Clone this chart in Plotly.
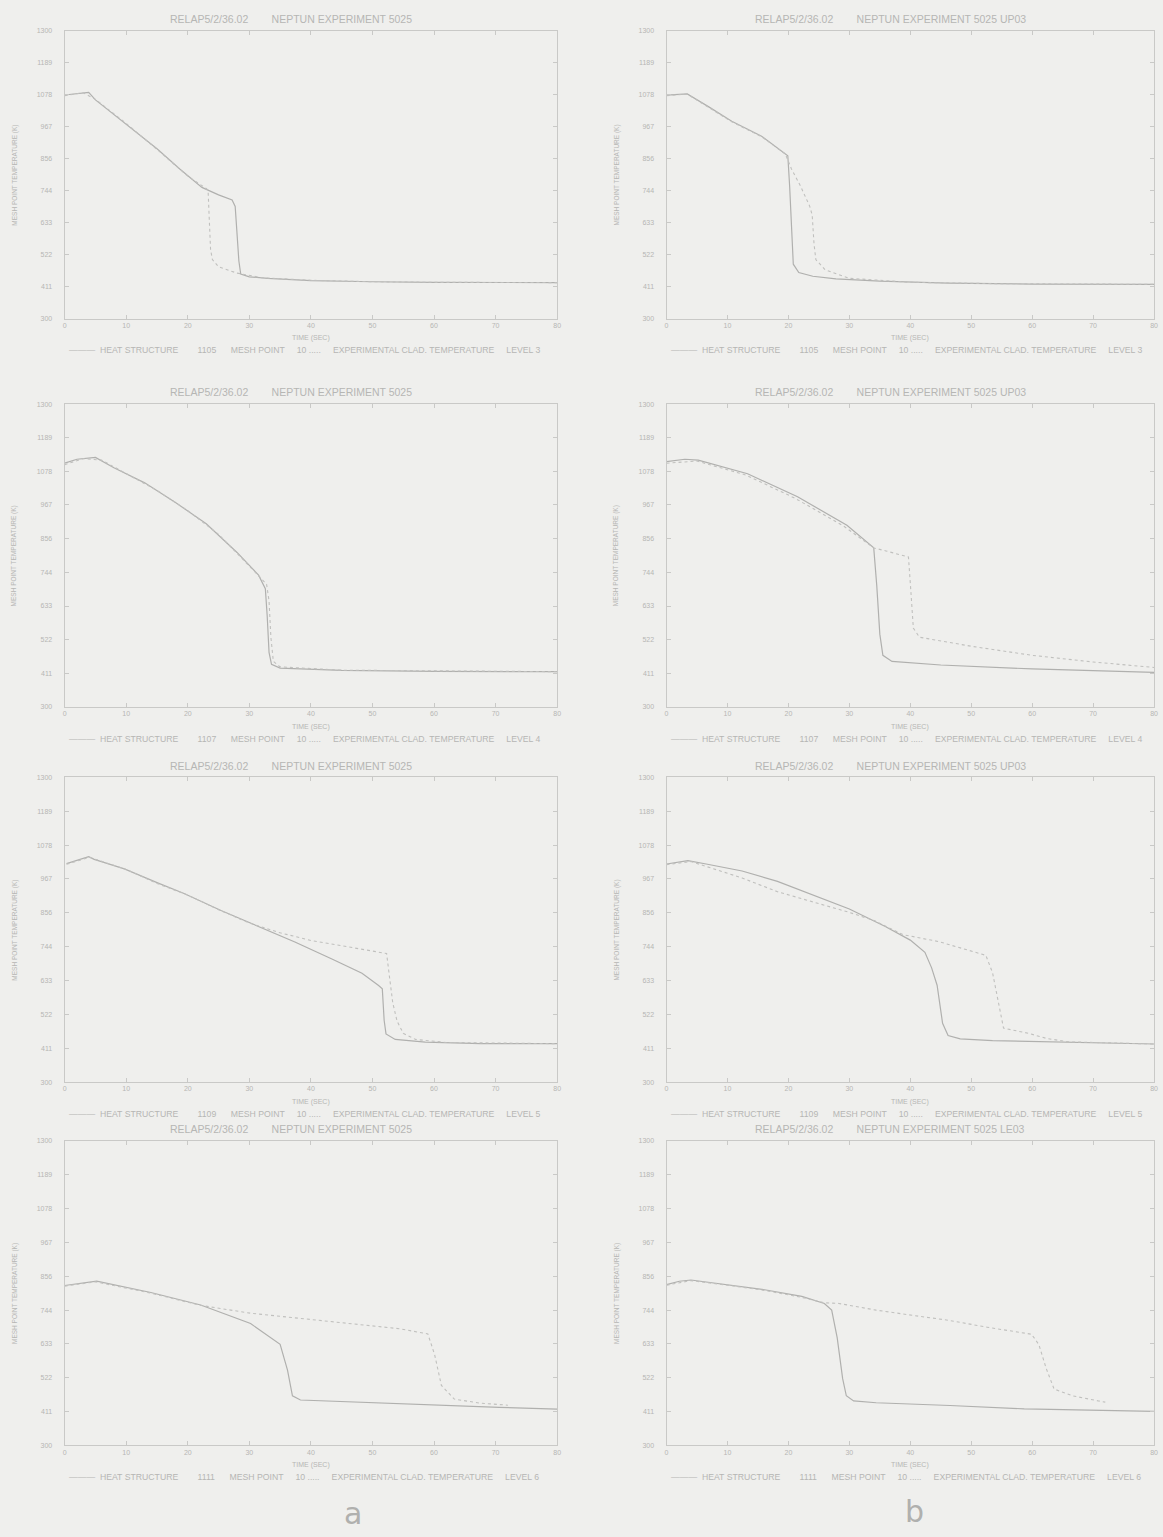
import plotly.graph_objects as go

W, H = 1163, 1537

# ---------------- axis ticks ----------------
x_ticks = [0, 10, 20, 30, 40, 50, 60, 70, 80]
y_ticks = [300, 411, 522, 633, 744, 856, 967, 1078, 1189, 1300]
y_tick_text = ["300", "411", "522", "633", "744", "856", "967", "1078", "1189", "1300"]

# ---------------- panel texts ----------------
titles = [
    "RELAP5/2/36.02        NEPTUN EXPERIMENT 5025",
    "RELAP5/2/36.02        NEPTUN EXPERIMENT 5025 UP03",
    "RELAP5/2/36.02        NEPTUN EXPERIMENT 5025",
    "RELAP5/2/36.02        NEPTUN EXPERIMENT 5025 UP03",
    "RELAP5/2/36.02        NEPTUN EXPERIMENT 5025",
    "RELAP5/2/36.02        NEPTUN EXPERIMENT 5025 UP03",
    "RELAP5/2/36.02        NEPTUN EXPERIMENT 5025",
    "RELAP5/2/36.02        NEPTUN EXPERIMENT 5025 LE03",
]
heat_structures = ["1105", "1105", "1107", "1107", "1109", "1109", "1111", "1111"]
levels = ["3", "3", "4", "4", "5", "5", "6", "6"]
x_title = "TIME (SEC)"
y_title = "MESH POINT TEMPERATURE (K)"
column_labels = ["a", "b"]

# ---------------- data (time s, temperature K) ----------------
# row 1, column a
t_a1_calc = [0, 2.5, 3.9, 5, 10, 15, 18.7, 22.3, 25, 27.2, 27.7, 28.0, 28.3, 28.6, 30, 33, 40, 50, 60, 80]
T_a1_calc = [1077, 1083, 1086, 1060, 975, 890, 820, 756, 730, 712, 690, 600, 500, 455, 445, 440, 432, 428, 426, 425]
t_a1_exp = [0, 3, 5, 10, 15, 20, 23.0, 23.3, 23.5, 23.7, 24, 25, 28, 32, 40, 50, 60, 80]
T_a1_exp = [1075, 1085, 1062, 978, 888, 795, 752, 745, 640, 540, 505, 480, 458, 442, 433, 428, 426, 425]

# row 1, column b
t_b1_calc = [0, 3.4, 7, 10.7, 15.6, 19.9, 20.2, 20.5, 20.8, 21.7, 24, 27.8, 35, 46.2, 60, 80]
T_b1_calc = [1077, 1081, 1035, 986, 934, 866, 760, 600, 489, 460, 447, 438, 430, 423, 420, 419]
t_b1_exp = [0, 3.4, 10.7, 15.6, 19.5, 20.5, 22, 23.5, 23.9, 24.2, 24.5, 26, 30, 40, 55, 80]
T_b1_exp = [1075, 1080, 984, 932, 872, 820, 760, 690, 660, 560, 505, 470, 440, 426, 421, 419]

# row 2, column a
t_a2_calc = [0, 2, 5, 8, 13, 18, 23, 28, 31.5, 32.6, 32.9, 33.2, 33.6, 35, 45, 60, 80]
T_a2_calc = [1105, 1118, 1124, 1090, 1040, 975, 905, 810, 735, 690, 600, 480, 440, 428, 420, 417, 416]
t_a2_exp = [0, 3, 6, 10, 15, 20, 25, 30, 32.8, 33.2, 33.5, 33.9, 35, 45, 60, 80]
T_a2_exp = [1100, 1120, 1115, 1070, 1015, 948, 870, 765, 705, 650, 530, 450, 432, 421, 418, 416]

# row 2, column b
t_b2_calc = [0, 3, 5.2, 13.3, 21.5, 29.6, 34, 34.5, 35, 35.5, 37, 45, 60, 80]
T_b2_calc = [1110, 1118, 1115, 1070, 994, 900, 825, 700, 540, 470, 450, 438, 425, 414]
t_b2_exp = [0, 5, 13, 21, 29, 34, 36, 38, 39.7, 40.1, 40.5, 41.5, 50, 60, 70, 80]
T_b2_exp = [1105, 1112, 1066, 990, 898, 825, 815, 805, 795, 680, 560, 530, 500, 470, 448, 430]

# row 3, column a
t_a3_calc = [0.3, 3.9, 4.8, 9.7, 15.1, 19.3, 25.4, 31.4, 37.4, 43.5, 48.3, 51.0, 51.6, 51.9, 52.2, 53.7, 58.6, 67.6, 80]
T_a3_calc = [1017, 1040, 1031, 1000, 954, 920, 863, 811, 760, 703, 657, 617, 606, 503, 458, 440, 431, 426, 426]
t_a3_exp = [0.3, 4, 10, 15, 20, 25, 30, 35, 40, 45, 50, 52.3, 52.8, 53.3, 54, 55, 57, 62, 80]
T_a3_exp = [1015, 1038, 998, 952, 914, 866, 822, 790, 765, 748, 732, 722, 640, 560, 500, 460, 440, 430, 426]

# row 3, column b
t_b3_calc = [0, 3.5, 6.5, 12.4, 18.2, 24.1, 30, 35.9, 40, 42.4, 43.5, 44.4, 44.7, 45.3, 46.2, 48.2, 53.5, 65.3, 80]
T_b3_calc = [1016, 1027, 1016, 993, 959, 914, 868, 811, 766, 726, 675, 618, 573, 493, 453, 442, 436, 431, 425]
t_b3_exp = [0, 4, 12.4, 18.2, 24.1, 30, 34.1, 38.8, 44.7, 50.6, 52.4, 53.5, 54.7, 55.3, 59.4, 62.4, 66, 80]
T_b3_exp = [1014, 1024, 970, 925, 891, 857, 830, 784, 761, 727, 716, 659, 545, 477, 460, 443, 432, 425]

# row 4, column a
t_a4_calc = [0, 5.2, 14, 22.1, 30.2, 35, 36.2, 37, 38.3, 54.4, 70.6, 80]
T_a4_calc = [825, 839, 802, 761, 700, 632, 547, 463, 449, 436, 425, 419]
t_a4_exp = [0, 5, 14, 22, 30.2, 38.3, 46.4, 54.4, 59, 60.1, 61.2, 63.3, 67.4, 72]
T_a4_exp = [823, 837, 800, 760, 734, 717, 700, 683, 666, 598, 497, 452, 439, 432]

# row 4, column b
t_b4_calc = [0, 2.1, 4, 10, 16.1, 22.2, 25.9, 27.1, 28, 28.9, 29.5, 30.7, 34.4, 46.5, 58.7, 80]
T_b4_calc = [828, 839, 843, 828, 811, 789, 766, 744, 654, 519, 463, 446, 440, 431, 420, 412]
t_b4_exp = [0, 4, 10, 16, 22, 25.9, 28.3, 34.4, 40.4, 46.5, 52.6, 59.9, 61.1, 62.3, 63.6, 66.6, 70.9, 72]
T_b4_exp = [826, 841, 826, 809, 787, 768, 766, 744, 727, 710, 688, 665, 631, 553, 485, 463, 446, 442]

panels_data = [
    (t_a1_calc, T_a1_calc, t_a1_exp, T_a1_exp),
    (t_b1_calc, T_b1_calc, t_b1_exp, T_b1_exp),
    (t_a2_calc, T_a2_calc, t_a2_exp, T_a2_exp),
    (t_b2_calc, T_b2_calc, t_b2_exp, T_b2_exp),
    (t_a3_calc, T_a3_calc, t_a3_exp, T_a3_exp),
    (t_b3_calc, T_b3_calc, t_b3_exp, T_b3_exp),
    (t_a4_calc, T_a4_calc, t_a4_exp, T_a4_exp),
    (t_b4_calc, T_b4_calc, t_b4_exp, T_b4_exp),
]

# ---------------- layout geometry (pixels) ----------------
col_px = [(63, 558), (668, 1158)]
row_px = [(27, 316), (402, 706), (777, 1083), (1142, 1448)]

BG = "#efefed"
AXC = "#c9c9c7"
TXT = "#b6b6b4"
CALC = "#b0b0ae"
EXP = "#c0c0be"
FONT = "Liberation Sans"

fig = go.Figure()
layout = dict(
    width=W, height=H, autosize=False,
    margin=dict(l=0, r=0, t=0, b=0),
    paper_bgcolor=BG, plot_bgcolor=BG,
    showlegend=False,
    font=dict(family=FONT, color=TXT, size=7),
)
annotations = []

def px(x):
    return x / W

def py(y):
    return 1 - y / H

for i, (tc, Tc, te, Te) in enumerate(panels_data):
    r, c = divmod(i, 2)
    x0, x1 = col_px[c]
    y0, y1 = row_px[r]
    n = i + 1
    xa = "x" if n == 1 else f"x{n}"
    ya = "y" if n == 1 else f"y{n}"
    xkey = "xaxis" if n == 1 else f"xaxis{n}"
    ykey = "yaxis" if n == 1 else f"yaxis{n}"

    fig.add_trace(go.Scatter(x=tc, y=Tc, mode="lines", xaxis=xa, yaxis=ya,
                             line=dict(color=CALC, width=1.2), name="HEAT STRUCTURE"))
    fig.add_trace(go.Scatter(x=te, y=Te, mode="lines", xaxis=xa, yaxis=ya,
                             line=dict(color=EXP, width=1.1, dash="dot"),
                             name="EXPERIMENTAL CLAD. TEMPERATURE"))

    layout[xkey] = dict(
        domain=[px(x0), px(x1)], range=[0, 80], anchor=ya,
        tickmode="array", tickvals=x_ticks, ticktext=[str(v) for v in x_ticks],
        showgrid=False, zeroline=False, showline=True, linecolor=AXC, linewidth=1,
        mirror="allticks", ticks="inside", ticklen=4, tickcolor=AXC,
        tickfont=dict(size=7, color=TXT, family=FONT),
    )
    layout[ykey] = dict(
        domain=[py(y1), py(y0)], range=[300, 1300], anchor=xa,
        tickmode="array", tickvals=y_ticks, ticktext=y_tick_text,
        showgrid=False, zeroline=False, showline=True, linecolor=AXC, linewidth=1,
        mirror="allticks", ticks="inside", ticklen=4, tickcolor=AXC,
        tickfont=dict(size=7, color=TXT, family=FONT), ticklabelstandoff=10,
    )

    xc = (x0 + x1) / 2
    # title
    annotations.append(dict(x=px(xc - 20), y=py(y0 - 12), xref="paper", yref="paper",
                            text=titles[i], showarrow=False, xanchor="center", yanchor="middle",
                            font=dict(size=10.5, color=TXT, family=FONT)))
    # x title
    annotations.append(dict(x=px(xc), y=py(y1 + 20), xref="paper", yref="paper",
                            text=x_title, showarrow=False, xanchor="center", yanchor="middle",
                            font=dict(size=7, color=TXT, family=FONT)))
    # legend line
    leg = ("\u2014\u2014\u2014  HEAT STRUCTURE        " + heat_structures[i] +
           "      MESH POINT     10 .....     EXPERIMENTAL CLAD. TEMPERATURE     LEVEL " + levels[i])
    annotations.append(dict(x=px(x0 + 2), y=py(y1 + 32), xref="paper", yref="paper",
                            text=leg, showarrow=False, xanchor="left", yanchor="middle",
                            font=dict(size=8.7, color=TXT, family=FONT)))
    # y title
    annotations.append(dict(x=px(x0 - 50), y=py((y0 + y1) / 2), xref="paper", yref="paper",
                            text=y_title, showarrow=False, textangle=-90,
                            xanchor="center", yanchor="middle",
                            font=dict(size=6.5, color=TXT, family=FONT)))

# column labels
annotations.append(dict(x=px(353), y=py(1516), xref="paper", yref="paper",
                        text=column_labels[0], showarrow=False, xanchor="center", yanchor="middle",
                        font=dict(size=30, color="#b0b0ae", family="DejaVu Sans")))
annotations.append(dict(x=px(917), y=py(1514), xref="paper", yref="paper",
                        text=column_labels[1], showarrow=False, xanchor="center", yanchor="middle",
                        font=dict(size=30, color="#b0b0ae", family="DejaVu Sans")))

layout["annotations"] = annotations
fig.update_layout(**layout)
fig.write_html(
    "out.html",
    config={"displayModeBar": False},
    post_script="document.body.style.margin='0';document.body.style.padding='0';"
                "document.body.style.background='" + BG + "';"
                "document.documentElement.style.background='" + BG + "';",
)
